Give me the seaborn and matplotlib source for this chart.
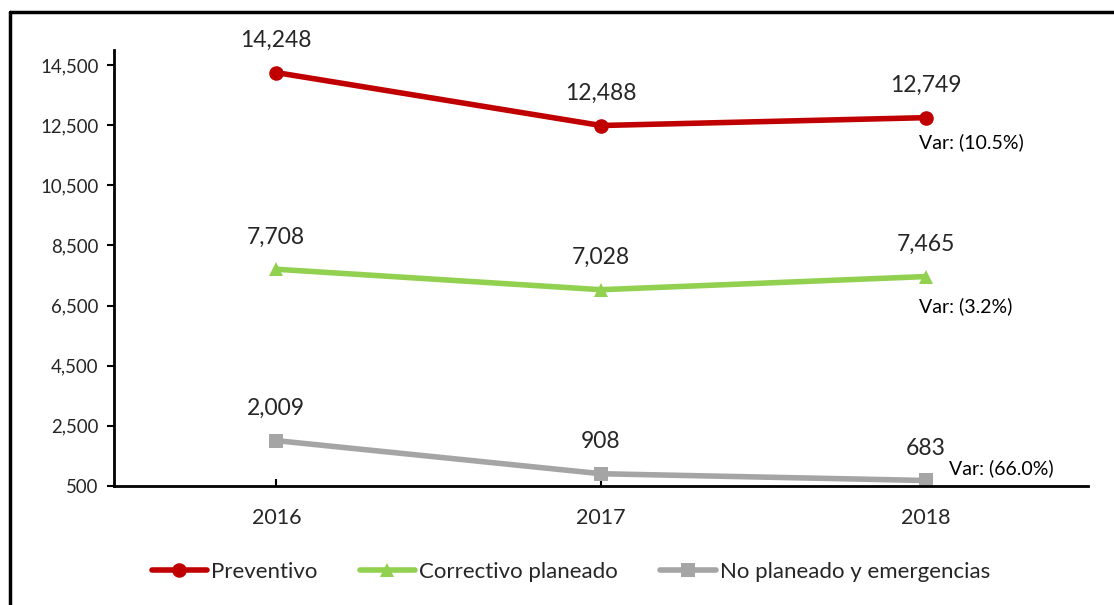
import pandas as pd
import seaborn as sns
import matplotlib as mpl
from matplotlib import pyplot as plt
from matplotlib.lines import Line2D

years = ["2016", "2017", "2018"]
preventivo = [14248, 12488, 12749]
correctivo = [7708, 7028, 7465]
no_planeado = [2009, 908, 683]
series_names = ["Preventivo", "Correctivo planeado", "No planeado y emergencias"]
var_labels = ["Var: (10.5%)", "Var: (3.2%)", "Var: (66.0%)"]
y_ticks = [500, 2500, 4500, 6500, 8500, 10500, 12500, 14500]

colors = ["#C00000", "#92D050", "#A5A5A5"]
markers = ["o", "^", "s"]

rows = []
for name, vals in zip(series_names, [preventivo, correctivo, no_planeado]):
    for i, v in enumerate(vals):
        rows.append({"serie": name, "x": i, "year": years[i], "value": v})
df = pd.DataFrame(rows)

sns.set_style("white")
plt.rcParams["font.family"] = ["Lato", "DejaVu Sans"]

fig = plt.figure(figsize=(11.14, 6.05), dpi=100)
ax = fig.add_axes([0.1023, 0.1967, 0.8744, 0.7207])

for name, color, marker in zip(series_names, colors, markers):
    sub = df[df.serie == name]
    sns.lineplot(data=sub, x="x", y="value", ax=ax, color=color, marker=marker,
                 markersize=10.5, linewidth=4, markeredgewidth=0, label=name)

# data labels
for name, vals in zip(series_names, [preventivo, correctivo, no_planeado]):
    for i, v in enumerate(vals):
        ax.annotate(f"{v:,}", (i, v), xytext=(0, 23), textcoords="offset points",
                    ha="center", va="center", fontsize=16.5, color="#262626")

# variation labels next to 2018 (offsets in points)
var_offsets = [(-5, -17.5), (-5, -21.5), (16.5, 8.6)]
for vals, lab, off in zip([preventivo, correctivo, no_planeado], var_labels, var_offsets):
    ax.annotate(lab, (2, vals[2]), xytext=off, textcoords="offset points",
                ha="left", va="center", fontsize=14, color="#000000")

ax.set_xlim(-0.5, 2.5)
ax.set_ylim(500, 15000)
ax.set_xticks([0, 1, 2])
ax.set_xticklabels(years)
ax.set_yticks(y_ticks)
ax.set_yticklabels([f"{t:,}" for t in y_ticks])
ax.set_xlabel("")
ax.set_ylabel("")

for side in ["top", "right"]:
    ax.spines[side].set_visible(False)
for side in ["left", "bottom"]:
    ax.spines[side].set_color("black")
    ax.spines[side].set_linewidth(2)

ax.tick_params(axis="y", which="both", left=True, direction="out", length=5,
               width=1.5, labelsize=13.4, pad=6, colors="black", labelcolor="#262626")
ax.tick_params(axis="x", which="both", bottom=True, direction="in", length=5,
               width=1.5, labelsize=15.5, pad=16, colors="black", labelcolor="#262626")

leg = ax.legend(loc="center", bbox_to_anchor=(0.469, -0.197), ncol=3,
                frameon=False, fontsize=16, handlelength=2.5, handletextpad=0.18,
                columnspacing=1.9)
for t in leg.get_texts():
    t.set_color("#262626")

# frame lines of the original screenshot
fig.add_artist(Line2D([10 / 1114, 1.0], [1 - 12 / 605, 1 - 12 / 605],
                      color="black", linewidth=2.5, transform=fig.transFigure))
fig.add_artist(Line2D([10 / 1114, 10 / 1114], [0.0, 1 - 12 / 605],
                      color="black", linewidth=2.5, transform=fig.transFigure))

plt.savefig("out.png", dpi=100)
